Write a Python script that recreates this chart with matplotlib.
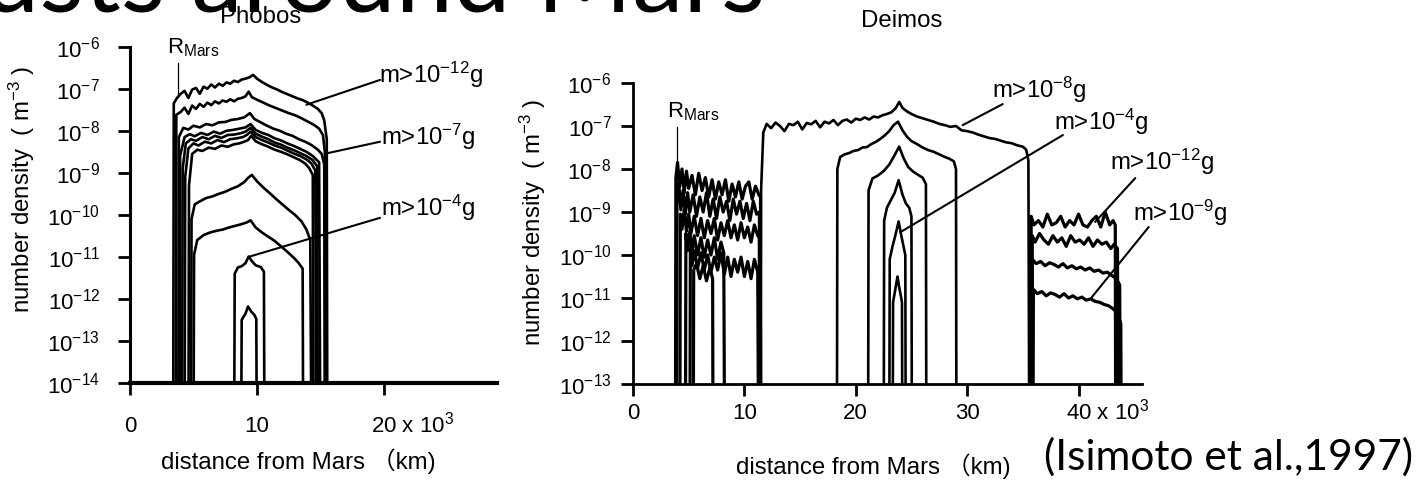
import numpy as np
import matplotlib
matplotlib.use("Agg")
from matplotlib import pyplot as plt
from matplotlib.ticker import NullLocator

plt.rcParams['font.family'] = ['Liberation Sans', 'Noto Sans CJK JP']
plt.rcParams['mathtext.fontset'] = 'custom'
plt.rcParams['mathtext.rm'] = 'Liberation Sans'
plt.rcParams['mathtext.it'] = 'Liberation Sans:italic'
plt.rcParams['mathtext.bf'] = 'Liberation Sans:bold'

# ---- Phobos curves (x: 10^3 km, y: log10 number density) ----
p1_x = [3.4, 3.45, 3.7, 4.0, 4.3, 4.6, 4.9, 5.2, 5.5, 5.8, 6.1, 6.4, 6.7, 7.0, 7.3, 7.6, 7.9, 8.2, 8.5, 8.8,
        9.1, 9.4, 9.7, 10.0, 10.4, 10.8, 11.2, 11.6, 12.0, 12.4, 12.8, 13.2, 13.6, 14.0, 14.4, 14.8, 15.1, 15.3, 15.5, 15.55]
p1_lg = [-16, -7.35, -7.22, -7.12, -7.05, -7.22, -7.02, -6.98, -7.12, -6.95, -7.0, -6.9, -6.97, -6.88, -6.93, -6.85, -6.88, -6.81, -6.84, -6.78,
         -6.76, -6.73, -6.67, -6.76, -6.84, -6.91, -6.97, -7.02, -7.08, -7.13, -7.18, -7.23, -7.27, -7.33, -7.4, -7.48, -7.58, -7.75, -8.2, -16]
p2_x = [3.6, 3.65, 4.0, 4.3, 4.6, 4.9, 5.2, 5.5, 5.8, 6.1, 6.4, 6.7, 7.0, 7.3, 7.6, 7.9, 8.2, 8.5, 8.8, 9.1,
        9.35, 9.6, 10.0, 10.5, 11.0, 11.5, 12.0, 12.5, 13.0, 13.5, 14.0, 14.5, 14.9, 15.2, 15.35, 15.4]
p2_lg = [-16, -7.62, -7.55, -7.45, -7.6, -7.4, -7.48, -7.36, -7.43, -7.33, -7.39, -7.3, -7.35, -7.28, -7.31, -7.25, -7.3, -7.24, -7.22, -7.18,
         -7.07, -7.2, -7.26, -7.33, -7.4, -7.46, -7.52, -7.58, -7.63, -7.7, -7.78, -7.86, -7.95, -8.1, -8.5, -16]
p3_x = [3.8, 3.85, 4.2, 4.6, 5.0, 5.5, 6.0, 6.5, 7.0, 7.5, 8.0, 8.5, 9.0, 9.45, 9.8, 10.3, 10.8, 11.3, 11.8, 12.3,
        12.8, 13.3, 13.8, 14.3, 14.8, 15.1, 15.3, 15.35]
p3_lg = [-16, -8.15, -7.93, -7.97, -7.88, -7.92, -7.84, -7.87, -7.8, -7.79, -7.74, -7.72, -7.68, -7.58, -7.72, -7.8, -7.88, -7.95, -8.0, -8.07,
         -8.12, -8.2, -8.26, -8.34, -8.45, -8.55, -8.8, -16]
b1_x = [3.9, 3.95, 4.3, 4.7, 5.1, 5.6, 6.1, 6.6, 7.1, 7.6, 8.1, 8.6, 9.1, 9.5, 9.9, 10.4, 10.9, 11.4, 11.9, 12.4,
        12.9, 13.4, 13.9, 14.4, 14.9, 15.0]
b1_lg = [-16, -8.6, -8.15, -8.08, -8.13, -8.05, -8.1, -8.02, -8.07, -8.0, -7.98, -7.95, -7.92, -7.84, -7.98, -8.05, -8.1, -8.18, -8.23, -8.3,
         -8.36, -8.43, -8.5, -8.6, -8.75, -16]
b2_x = [4.1, 4.15, 4.4, 4.8, 5.2, 5.7, 6.2, 6.7, 7.2, 7.7, 8.2, 8.7, 9.1, 9.5, 9.9, 10.4, 10.9, 11.4, 11.9, 12.4,
        12.9, 13.4, 13.9, 14.4, 14.75, 14.8]
b2_lg = [-16, -8.9, -8.3, -8.2, -8.24, -8.15, -8.2, -8.12, -8.17, -8.1, -8.09, -8.06, -8.02, -7.93, -8.07, -8.14, -8.2, -8.28, -8.33, -8.4,
         -8.46, -8.53, -8.6, -8.7, -8.85, -16]
b3_x = [4.3, 4.35, 4.6, 5.0, 5.4, 5.9, 6.4, 6.9, 7.4, 7.9, 8.4, 8.9, 9.2, 9.5, 9.9, 10.4, 10.9, 11.4, 11.9, 12.4,
        12.9, 13.4, 13.9, 14.3, 14.6, 14.65]
b3_lg = [-16, -9.1, -8.42, -8.3, -8.35, -8.26, -8.3, -8.22, -8.27, -8.2, -8.18, -8.15, -8.1, -8.02, -8.15, -8.22, -8.28, -8.35, -8.4, -8.47,
         -8.54, -8.6, -8.68, -8.78, -8.95, -16]
b4_x = [4.6, 4.65, 4.9, 5.3, 5.7, 6.2, 6.7, 7.2, 7.7, 8.2, 8.6, 9.0, 9.3, 9.55, 9.9, 10.4, 10.9, 11.4, 11.9, 12.4,
        12.9, 13.4, 13.8, 14.1, 14.4, 14.45]
b4_lg = [-16, -9.3, -8.55, -8.45, -8.48, -8.4, -8.43, -8.35, -8.38, -8.32, -8.3, -8.26, -8.22, -8.12, -8.25, -8.32, -8.38, -8.45, -8.5, -8.56,
         -8.63, -8.7, -8.78, -8.88, -9.05, -16]
p5_x = [4.8, 4.85, 5.1, 5.5, 6.0, 6.5, 7.0, 7.5, 8.0, 8.5, 9.0, 9.3, 9.6, 10.0, 10.5, 11.0, 11.5, 12.0, 12.5, 13.0,
        13.5, 13.9, 14.2, 14.3]
p5_lg = [-16, -10.1, -9.75, -9.68, -9.6, -9.56, -9.5, -9.45, -9.38, -9.32, -9.22, -9.12, -9.05, -9.2, -9.35, -9.48, -9.62, -9.75, -9.88, -10.0,
         -10.15, -10.35, -10.6, -16]
p6_x = [5.0, 5.05, 5.3, 5.8, 6.3, 6.8, 7.3, 7.8, 8.3, 8.8, 9.2, 9.5, 9.9, 10.4, 10.9, 11.4, 11.9, 12.4, 12.9, 13.3,
        13.6, 13.65]
p6_lg = [-16, -10.95, -10.6, -10.48, -10.42, -10.38, -10.35, -10.3, -10.26, -10.22, -10.18, -10.13, -10.3, -10.42, -10.52, -10.62, -10.75, -10.88, -11.02, -11.15,
         -11.28, -16]
p7_x = [8.2, 8.25, 8.5, 8.8, 9.1, 9.35, 9.6, 9.9, 10.3, 10.55, 10.6]
p7_lg = [-16, -11.4, -11.25, -11.22, -11.15, -10.99, -11.1, -11.2, -11.24, -11.35, -16]
p8_x = [8.75, 8.8, 8.95, 9.1, 9.3, 9.55, 9.8, 9.95, 10.0]
p8_lg = [-16, -12.5, -12.42, -12.35, -12.18, -12.3, -12.38, -12.48, -16]

# ---- Deimos curves ----
d1_x = [11.4, 11.5, 11.7, 12.0, 12.4, 12.8, 13.2, 13.6, 14.0, 14.4, 14.8, 15.2, 15.6, 16.0, 16.4, 16.8, 17.2, 17.6, 18.0, 18.4,
        18.8, 19.2, 19.6, 20.0, 20.4, 20.8, 21.2, 21.6, 22.0, 22.4, 22.8, 23.2, 23.6, 23.9, 24.2, 24.6, 25.0, 25.5, 26.0, 26.5,
        27.0, 27.5, 28.0, 28.5, 29.0, 29.5, 30.0, 30.5, 31.0, 31.5, 32.0, 32.5, 33.0, 33.5, 34.0, 34.5, 35.0, 35.3, 35.5, 35.6]
d1_lg = [-16, -8.5, -7.15, -6.95, -7.05, -6.92, -7.0, -7.12, -6.95, -6.98, -6.9, -7.08, -6.93, -6.96, -6.88, -7.03, -6.9, -6.94, -6.86, -6.98,
         -6.88, -6.85, -6.92, -6.83, -6.86, -6.8, -6.85, -6.78, -6.8, -6.75, -6.72, -6.68, -6.58, -6.44, -6.58, -6.66, -6.72, -6.78, -6.82, -6.86,
         -6.9, -6.95, -6.98, -7.02, -7.0, -7.1, -7.12, -7.15, -7.2, -7.24, -7.28, -7.3, -7.34, -7.38, -7.4, -7.45, -7.48, -7.55, -7.8, -16]
d2_x = [18.3, 18.35, 18.6, 19.0, 19.4, 19.8, 20.2, 20.6, 21.0, 21.4, 21.8, 22.2, 22.6, 23.0, 23.4, 23.8, 24.2, 24.6, 25.0, 25.5,
        26.0, 26.5, 27.0, 27.5, 28.0, 28.4, 28.8, 29.0, 29.05]
d2_lg = [-16, -8.0, -7.72, -7.66, -7.63, -7.58, -7.56, -7.5, -7.49, -7.42, -7.37, -7.3, -7.22, -7.12, -6.98, -6.9, -7.1, -7.25, -7.35, -7.42,
         -7.5, -7.56, -7.6, -7.66, -7.72, -7.76, -7.82, -8.0, -16]
d3_x = [21.1, 21.15, 21.5, 22.0, 22.5, 23.0, 23.4, 23.9, 24.3, 24.7, 25.1, 25.5, 26.0, 26.3, 26.35]
d3_lg = [-16, -8.5, -8.22, -8.15, -8.05, -7.9, -7.72, -7.48, -7.75, -7.95, -8.05, -8.12, -8.2, -8.35, -16]
d4_x = [22.5, 22.55, 22.8, 23.1, 23.5, 23.85, 24.2, 24.5, 24.8, 25.0, 25.05]
d4_lg = [-16, -9.2, -8.9, -8.75, -8.55, -8.26, -8.6, -8.8, -8.9, -9.1, -16]
d5_x = [23.0, 23.05, 23.3, 23.55, 23.85, 24.05, 24.25, 24.45, 24.5]
d5_lg = [-16, -10.1, -9.8, -9.55, -9.22, -9.5, -9.75, -10.0, -16]
d6_x = [23.3, 23.35, 23.55, 23.75, 23.9, 24.05, 24.15, 24.2]
d6_lg = [-16, -11.1, -10.8, -10.5, -10.75, -10.95, -11.1, -16]

# inner (R_Mars .. ~11.5) noisy band
i1_x = [3.8, 3.85, 4.0, 4.2, 4.4, 4.6, 4.8, 5.0, 5.3, 5.6, 5.9, 6.2, 6.5, 6.8, 7.1, 7.4, 7.7, 8.0, 8.3, 8.6,
        8.9, 9.2, 9.5, 9.8, 10.1, 10.4, 10.7, 11.0, 11.3, 11.45, 11.5]
i1_lg = [-16, -8.2, -7.85, -8.4, -8.0, -8.55, -8.05, -8.45, -8.15, -8.6, -8.1, -8.5, -8.2, -8.65, -8.25, -8.7, -8.3, -8.6, -8.25, -8.75,
         -8.35, -8.65, -8.3, -8.7, -8.4, -8.3, -8.7, -8.4, -8.6, -8.65, -16]
i2_x = [3.9, 3.95, 4.1, 4.3, 4.5, 4.7, 4.9, 5.1, 5.4, 5.7, 6.0, 6.3, 6.6, 6.9, 7.2, 7.5, 7.8, 8.1, 8.4, 8.7,
        9.0, 9.3, 9.6, 9.9, 10.2, 10.5, 10.8, 11.1, 11.35, 11.4]
i2_lg = [-16, -8.6, -8.3, -8.95, -8.5, -9.05, -8.55, -9.0, -8.6, -9.1, -8.65, -9.0, -8.55, -9.1, -8.7, -9.15, -8.65, -9.0, -8.75, -9.2,
         -8.7, -9.05, -8.75, -9.15, -8.8, -9.2, -8.75, -9.05, -9.0, -16]
i3_x = [4.2, 4.25, 4.4, 4.6, 4.8, 5.0, 5.2, 5.5, 5.8, 6.1, 6.4, 6.7, 7.0, 7.3, 7.6, 7.9, 8.2, 8.5, 8.8, 9.1,
        9.4, 9.7, 10.0, 10.3, 10.6, 10.9, 11.2, 11.35, 11.4]
i3_lg = [-16, -9.05, -9.4, -8.95, -9.45, -9.05, -9.5, -9.1, -9.55, -9.15, -9.6, -9.2, -9.5, -9.15, -9.65, -9.25, -9.55, -9.2, -9.6, -9.3,
         -9.65, -9.25, -9.6, -9.35, -9.7, -9.3, -9.55, -9.6, -16]
i4_x = [4.7, 4.75, 4.9, 5.1, 5.3, 5.5, 5.8, 6.1, 6.4, 6.7, 7.0, 7.3, 7.6, 7.9, 8.15, 8.25]
i4_lg = [-16, -9.5, -9.9, -9.45, -9.95, -9.55, -10.0, -9.6, -10.05, -9.65, -10.0, -9.6, -10.1, -9.7, -9.95, -16]
i5_x = [5.1, 5.15, 5.3, 5.5, 5.8, 6.1, 6.4, 6.7, 7.0, 7.3, 7.6, 7.9, 8.2, 8.5, 8.8, 9.1, 9.4, 9.7, 10.0, 10.3,
        10.6, 10.9, 11.2, 11.3]
i5_lg = [-16, -9.85, -10.25, -9.9, -10.3, -9.95, -10.35, -10.0, -10.4, -10.05, -10.35, -9.95, -10.45, -10.05, -10.5, -10.1, -10.4, -10.05, -10.5, -10.15,
         -10.55, -10.1, -10.4, -16]
i6_x = [5.4, 5.45, 5.7, 6.0, 6.3, 6.6, 6.9, 7.15, 7.2]
i6_lg = [-16, -10.35, -10.2, -10.55, -10.25, -10.6, -10.3, -10.55, -16]

# outer (beyond ~36) band
o1_x = [35.7, 35.75, 36.0, 36.4, 36.8, 37.2, 37.6, 38.0, 38.4, 38.8, 39.2, 39.6, 40.0, 40.4, 40.8, 41.2, 41.6, 42.0, 42.4, 42.8,
        43.1, 43.3, 43.35]
o1_lg = [-16, -9.1, -9.3, -9.2, -9.35, -9.05, -9.3, -9.25, -9.1, -9.35, -9.2, -9.3, -9.05, -9.3, -9.35, -9.2, -9.1, -9.35, -9.0, -9.3,
         -9.2, -9.3, -16]
o2_x = [35.8, 35.85, 36.1, 36.5, 36.9, 37.3, 37.7, 38.1, 38.5, 38.9, 39.3, 39.7, 40.1, 40.5, 40.9, 41.3, 41.7, 42.1, 42.5, 42.9,
        43.2, 43.5, 43.55]
o2_lg = [-16, -9.55, -9.7, -9.5, -9.65, -9.75, -9.55, -9.7, -9.6, -9.8, -9.55, -9.7, -9.65, -9.75, -9.6, -9.8, -9.65, -9.75, -9.7, -9.85,
         -9.75, -9.85, -16]
o3_x = [35.8, 35.85, 36.2, 36.6, 37.0, 37.4, 37.8, 38.2, 38.6, 39.0, 39.4, 39.8, 40.2, 40.6, 41.0, 41.4, 41.8, 42.2, 42.6, 43.0,
        43.4, 43.7, 43.75]
o3_lg = [-16, -10.1, -10.2, -10.15, -10.25, -10.18, -10.22, -10.28, -10.2, -10.3, -10.25, -10.32, -10.28, -10.35, -10.3, -10.38, -10.35, -10.42, -10.4, -10.48,
         -10.55, -10.7, -16]
o4_x = [35.9, 35.95, 36.3, 36.7, 37.1, 37.5, 37.9, 38.3, 38.7, 39.1, 39.5, 39.9, 40.3, 40.7, 41.1, 41.5, 41.9, 42.3, 42.7, 43.1,
        43.5, 43.8, 43.85]
o4_lg = [-16, -10.8, -10.9, -10.85, -10.95, -10.88, -10.92, -10.98, -10.9, -11.0, -10.95, -11.02, -10.98, -11.05, -11.02, -11.08, -11.1, -11.15, -11.18, -11.25,
         -11.35, -11.6, -16]

phobos_curves = [(p1_x, p1_lg), (p2_x, p2_lg), (p3_x, p3_lg), (b1_x, b1_lg), (b2_x, b2_lg),
                 (b3_x, b3_lg), (b4_x, b4_lg), (p5_x, p5_lg), (p6_x, p6_lg), (p7_x, p7_lg), (p8_x, p8_lg)]
deimos_curves = [(d1_x, d1_lg), (d2_x, d2_lg), (d3_x, d3_lg), (d4_x, d4_lg), (d5_x, d5_lg), (d6_x, d6_lg)]
deimos_bands = [(i1_x, i1_lg), (i2_x, i2_lg), (i3_x, i3_lg), (i4_x, i4_lg), (i5_x, i5_lg), (i6_x, i6_lg),
                (o1_x, o1_lg), (o2_x, o2_lg), (o3_x, o3_lg), (o4_x, o4_lg)]

phobos_yexp = [-6, -7, -8, -9, -10, -11, -12, -13, -14]
deimos_yexp = [-6, -7, -8, -9, -10, -11, -12, -13]
phobos_xticks = [0, 10, 20]
deimos_xticks = [0, 10, 20, 30, 40]

# labels: (text, text x, text log y, leader start, leader end)
phobos_notes = [("m>10$^{-12}$g", 23.7, -6.67, (19.7, -6.79), (13.9, -7.38)),
                ("m>10$^{-7}$g", 23.5, -8.15, (19.7, -8.26), (15.6, -8.53)),
                ("m>10$^{-4}$g", 23.5, -9.84, (19.7, -10.07), (9.45, -10.99))]
deimos_notes = [("m>10$^{-8}$g", 36.5, -6.16, (33.2, -6.49), (29.6, -6.98)),
                ("m>10$^{-4}$g", 42.0, -6.91, (38.6, -7.21), (24.0, -9.47)),
                ("m>10$^{-12}$g", 47.5, -7.84, (45.1, -8.21), (41.5, -9.23)),
                ("m>10$^{-9}$g", 49.1, -9.02, (46.3, -9.35), (41.2, -10.98))]

FS = 16      # tick labels
FL = 17.3    # axis labels, titles, notes
fig = plt.figure(figsize=(14.25, 4.86), dpi=100)
ax1 = fig.add_axes([0.0912, 0.2119, 0.2575, 0.692])
ax2 = fig.add_axes([0.4442, 0.2099, 0.3572, 0.6193])


def style_axis(ax, xmax, yexp, xticks, xpad, ypad, spine_w, bottom_w):
    ax.set_yscale('log')
    ax.set_xlim(0, xmax)
    ax.set_ylim(10.0 ** yexp[-1], 10.0 ** yexp[0])
    for s in ['top', 'right']:
        ax.spines[s].set_visible(False)
    ax.spines['left'].set_linewidth(spine_w)
    ax.spines['bottom'].set_linewidth(bottom_w)
    ax.yaxis.set_minor_locator(NullLocator())
    ax.set_yticks([10.0 ** e for e in yexp], ["10$^{%d}$" % e for e in yexp])
    labs = [str(t) for t in xticks]
    labs[-1] = labs[-1] + " x 10$^3$"
    ax.set_xticks(xticks, labs)
    ax.tick_params(axis='both', direction='out', length=8.5, width=2, labelsize=FS)
    ax.tick_params(axis='x', pad=xpad)
    ax.tick_params(axis='y', pad=ypad)
    for lab in ax.get_xticklabels():
        lab.set_va('baseline')
    last = ax.get_xticklabels()[-1]
    last.set_ha('left')
    last.set_transform(last.get_transform() +
                       matplotlib.transforms.ScaledTranslation(-9 / 72, 0, fig.dpi_scale_trans))


style_axis(ax1, 28.9, phobos_yexp, phobos_xticks, 27, 13, 2.2, 3.0)
style_axis(ax2, 45.7, deimos_yexp, deimos_xticks, 17, 7, 2.0, 2.0)

for xs, lg in phobos_curves:
    ax1.plot(xs, 10.0 ** np.array(lg), color='black', lw=1.9)
for xs, lg in deimos_curves:
    ax2.plot(xs, 10.0 ** np.array(lg), color='black', lw=1.9)
for xs, lg in deimos_bands:
    ax2.plot(xs, 10.0 ** np.array(lg), color='black', lw=2.3)

for ax, notes in [(ax1, phobos_notes), (ax2, deimos_notes)]:
    for txt, tx, ty, (sx, sy), (ex, ey) in notes:
        ax.text(tx, 10.0 ** ty, txt, ha='center', va='center', fontsize=FL, clip_on=False)
        ax.annotate("", xy=(ex, 10.0 ** ey), xytext=(sx, 10.0 ** sy),
                    arrowprops=dict(arrowstyle='-', lw=1.5, color='black', shrinkA=0, shrinkB=0),
                    annotation_clip=False)

# R_Mars markers
ax1.text(2.9, 10.0 ** -6.15, "R$_{\\mathrm{Mars}}$", fontsize=FS, ha='left', va='baseline')
ax1.plot([3.78, 3.78], [10.0 ** -6.39, 10.0 ** -7.2], color='black', lw=0.9)
ax2.text(3.05, 10.0 ** -6.79, "R$_{\\mathrm{Mars}}$", fontsize=FS, ha='left', va='baseline')
ax2.plot([3.95, 3.95], [10.0 ** -7.02, 10.0 ** -8.19], color='black', lw=0.9)

ax1.set_xlabel("distance from Mars （km)", fontsize=FL)
ax1.xaxis.set_label_coords(0.458, -0.195)
ax2.set_xlabel("distance from Mars （km)", fontsize=FL)
ax2.xaxis.set_label_coords(0.4715, -0.232)
ax1.set_ylabel("number density  ( m$^{-3}$ )", fontsize=FL)
ax1.yaxis.set_label_coords(-0.253, 0.577)
ax2.set_ylabel("number density  ( m$^{-3}$ )", fontsize=FL)
ax2.yaxis.set_label_coords(-0.167, 0.538)

fig.text(261 / 1425, 1 - 17 / 486, "Phobos", fontsize=FL, ha='center', va='center')
fig.text(902 / 1425, 1 - 21 / 486, "Deimos", fontsize=FL, ha='center', va='center')

# slide title (cut off at the top) and citation
fig.text(765 / 1425, 1 - 12 / 486, "Dusts around Mars", fontsize=74, family='Lato',
         ha='right', va='baseline')
fig.text(1413 / 1425, 1 - 470 / 486, "(Isimoto et al.,1997)", fontsize=30.5, family='Lato',
         ha='right', va='baseline')

fig.savefig("out.png", dpi=100)
